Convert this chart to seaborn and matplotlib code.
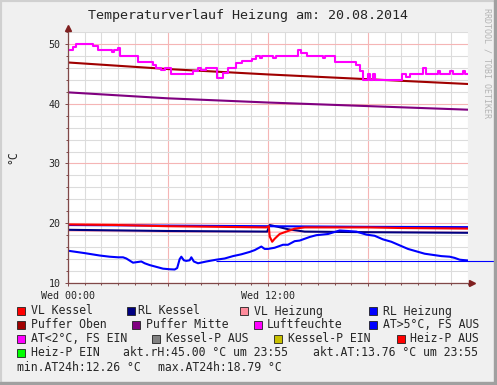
import numpy as np
import pandas as pd
import seaborn as sns
import matplotlib.pyplot as plt
from matplotlib.patches import Rectangle

# ---- data (hours since Wed 00:00) ----
rh_hours = [0.0, 0.3, 0.45, 1.5, 1.8, 2.65, 2.75, 3.0, 3.1, 4.2, 5.1, 5.3, 5.6, 5.8, 6.2,
            7.5, 7.8, 8.0, 8.3, 8.6, 8.95, 9.3, 9.6, 10.1, 10.45, 11.05, 11.25, 11.5, 11.65,
            12.3, 12.45, 13.8, 13.95, 14.35, 15.3, 15.4, 16.0, 17.3, 17.5, 17.7, 18.0, 18.1,
            18.3, 18.4, 20.05, 20.3, 20.5, 21.3, 21.5, 22.2, 22.3, 22.9, 23.1, 23.7, 23.8, 24.0]
rh_values = [49.0, 49.5, 50.0, 49.6, 49.0, 48.7, 49.0, 49.4, 48.0, 47.0, 46.5, 46.0, 45.6, 46.0, 45.0,
             45.5, 46.0, 45.6, 45.9, 46.0, 44.3, 45.2, 46.0, 46.8, 47.2, 47.5, 48.0, 47.6, 48.0,
             47.6, 48.0, 49.0, 48.5, 48.0, 47.6, 48.0, 47.0, 46.5, 45.5, 44.0, 45.0, 44.0,
             45.0, 44.0, 45.0, 44.5, 45.0, 46.0, 45.0, 45.5, 45.0, 45.5, 45.0, 45.5, 45.0, 45.0]

buf_hours = [0, 6, 12, 18, 24]
puffer_oben = [46.9, 45.8, 44.9, 44.1, 43.3]
puffer_mitte = [41.9, 40.9, 40.2, 39.6, 39.0]

vlk_hours = [0, 3, 6, 9, 11.9, 12.05, 12.1, 12.25, 12.4, 12.7, 13.0, 13.6, 14.2, 16, 18, 20, 24]
vl_kessel = [19.8, 19.7, 19.5, 19.4, 19.3, 19.5, 17.8, 16.9, 17.4, 18.2, 18.5, 19.1, 19.3, 19.3, 19.3, 19.2, 19.1]

rlk_hours = [0, 6, 11.95, 12.1, 12.6, 13.2, 14.2, 18, 24]
rl_kessel = [18.9, 18.7, 18.6, 19.7, 19.4, 19.0, 18.6, 18.5, 18.4]

rlh_hours = [0, 6, 12, 18, 24]
rl_heizung = [19.7, 19.6, 19.5, 19.4, 19.35]
vl_heizung = [18.7, 18.5, 18.5, 18.6, 18.5]

at_hours = [0, 0.5, 1.0, 1.9, 2.5, 3.0, 3.3, 3.5, 3.9, 4.4, 4.6, 4.9, 5.3, 5.7, 6.1, 6.4, 6.55,
            6.7, 6.8, 6.95, 7.1, 7.3, 7.4, 7.55, 7.8, 8.3, 8.9, 9.4, 9.9, 10.4, 10.9, 11.2, 11.6,
            11.8, 12.0, 12.4, 12.9, 13.2, 13.6, 13.9, 14.2, 14.5, 14.9, 15.6, 16.3, 16.8, 17.3,
            17.9, 18.4, 18.9, 19.4, 19.9, 20.4, 20.9, 21.4, 21.9, 22.4, 22.9, 23.2, 23.5, 24.0]
at_values = [15.4, 15.2, 15.0, 14.6, 14.4, 14.3, 14.3, 14.1, 13.4, 13.6, 13.3, 13.0, 12.7, 12.4, 12.3, 12.26, 12.5,
             14.0, 14.4, 13.8, 13.7, 13.8, 14.3, 13.6, 13.3, 13.6, 13.9, 14.1, 14.5, 14.8, 15.2, 15.5, 16.1,
             15.7, 15.7, 15.9, 16.4, 16.4, 17.0, 17.1, 17.4, 17.7, 18.0, 18.2, 18.79, 18.7, 18.6,
             18.1, 17.9, 17.3, 16.9, 16.3, 15.7, 15.3, 14.9, 14.7, 14.5, 14.4, 14.2, 13.9, 13.76]

at_rule_value = 13.76
at_rule_span = [8.9, 25.6]

legend_rows = [
    [("VL Kessel", "#ff0000"), ("RL Kessel", "#000080"), ("VL Heizung", "#ff8c9c"), ("RL Heizung", "#0000ff")],
    [("Puffer Oben", "#a00000"), ("Puffer Mitte", "#800080"), ("Luftfeuchte", "#ff00ff"), ("AT>5°C, FS AUS", "#0000ff")],
    [("AT<2°C, FS EIN", "#ff00ff"), ("Kessel-P AUS", "#808080"), ("Kessel-P EIN", "#c8c000"), ("Heiz-P AUS", "#ff0000")],
    [("Heiz-P EIN", "#00ff00")],
]
info_row4 = ["akt.rH:45.00 °C um 23:55", "akt.AT:13.76 °C um 23:55"]
info_row5 = ["min.AT24h:12.26 °C", "max.AT24h:18.79 °C"]

# ---- layout (pixels) ----
W, H = 497, 385
MONO = "DejaVu Sans Mono"
sns.set_style("white")
plt.rcParams["font.family"] = [MONO]

def fx(x):
    return x / W

def fy(y):
    return 1 - y / H

fig = plt.figure(figsize=(W / 100, H / 100), dpi=100, facecolor="#f0f0f0")
# 3d-ish frame
fig.patches.append(Rectangle((0, 0), 1, 1, transform=fig.transFigure, facecolor="none",
                             edgecolor="#d0d0d0", lw=3))
fig.patches.append(Rectangle((fx(494), 0), fx(3), 1, transform=fig.transFigure, color="#a0a0a0"))
fig.patches.append(Rectangle((0, 0), 1, 3 / H, transform=fig.transFigure, color="#a0a0a0"))

ax = fig.add_axes([fx(68), fy(283), fx(400), (283 - 32) / H])
ax.set_facecolor("white")

def line(xs, ys, color, lw=1.5, alpha=1.0, **kw):
    df = pd.DataFrame({"h": xs, "v": ys})
    sns.lineplot(data=df, x="h", y="v", ax=ax, color=color, lw=lw, alpha=alpha,
                 estimator=None, sort=False, **kw)

line(buf_hours, puffer_oben, "#a00000")
line(buf_hours, puffer_mitte, "#800080")
line(rh_hours, rh_values, "#ff00ff", drawstyle="steps-post")
line(rlh_hours, vl_heizung, "#ff8c9c", lw=1.0, alpha=0.6)
line(rlk_hours, rl_kessel, "#000080")
line(rlh_hours, rl_heizung, "#0000ff")
line(vlk_hours, vl_kessel, "#ff0000")
line(at_hours, at_values, "#0000ff")
ax.hlines(at_rule_value, at_rule_span[0], at_rule_span[1], color="#0000ff", lw=0.8, clip_on=False, zorder=5)

ax.set_xlim(0, 24)
ax.set_ylim(10, 52)
ax.set_xticks([0, 6, 12, 18])
ax.set_xticklabels(["Wed 00:00", "", "Wed 12:00", ""])
ax.set_xticks(np.arange(0, 25, 1), minor=True)
ax.set_yticks([10, 20, 30, 40, 50])
ax.set_yticks(np.arange(10, 53, 2), minor=True)
ax.grid(which="minor", color="#dcdcdc", lw=0.8)
ax.grid(which="major", color="#f5b5b5", lw=0.8)
ax.set_axisbelow(True)
ax.set_xlabel("")
ax.set_ylabel("")
ax.tick_params(which="both", direction="out", length=2, width=0.7, color="#804848",
               labelsize=7.2, pad=3.5, left=True, bottom=True)
ax.tick_params(which="minor", length=1.2)

axis_col = "#804848"
for s in ["top", "right"]:
    ax.spines[s].set_visible(False)
for s in ["left", "bottom"]:
    ax.spines[s].set_color(axis_col)
    ax.spines[s].set_linewidth(0.9)
ax.plot([0], [52.6], marker="^", ms=4, color="#802020", clip_on=False)
ax.plot([24.25], [10], marker=">", ms=4, color="#802020", clip_on=False)

# texts
fig.text(fx(248), fy(16), "Temperaturverlauf Heizung am: 20.08.2014", ha="center", va="center",
         fontsize=9.6, family=MONO)
fig.text(fx(13), fy(157), "°C", rotation=90, ha="center", va="center", fontsize=8.3, family=MONO)
fig.text(fx(487), fy(63), "RRDTOOL / TOBI OETIKER", rotation=270, ha="center", va="center",
         fontsize=6, color="#b4b4b4", family=MONO)

row_y = [311, 325, 339, 353, 367.5]
sq_x = [[17, 127, 240, 369], [17, 132, 254, 369], [17, 152, 274, 397], [17]]
tx_x = [[31, 138, 254, 383], [31, 146, 267, 383], [31, 166, 288, 410], [31]]
for r, entries in enumerate(legend_rows):
    for c, (label, col) in enumerate(entries):
        y = row_y[r]
        fig.patches.append(Rectangle((fx(sq_x[r][c]), fy(y + 4)), fx(8), 8 / H, transform=fig.transFigure,
                                     facecolor=col, edgecolor="#202020", lw=0.6))
        fig.text(fx(tx_x[r][c]), fy(y), label, ha="left", va="center", fontsize=8.3, family=MONO)
for x, t in zip([123, 313], info_row4):
    fig.text(fx(x), fy(row_y[3]), t, ha="left", va="center", fontsize=8.3, family=MONO)
for x, t in zip([17, 158], info_row5):
    fig.text(fx(x), fy(row_y[4]), t, ha="left", va="center", fontsize=8.3, family=MONO)

fig.savefig("out.png", dpi=100, facecolor=fig.get_facecolor())
